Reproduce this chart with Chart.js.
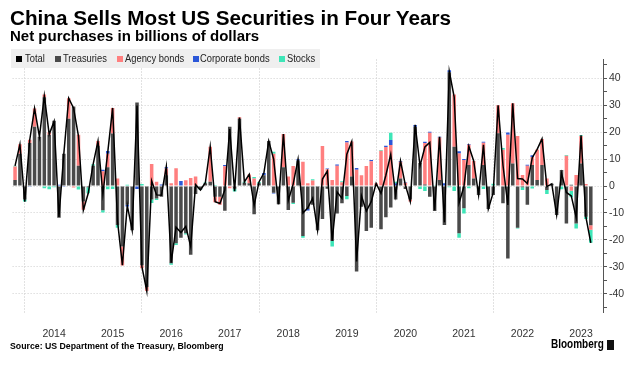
<!DOCTYPE html>
<html><head><meta charset="utf-8">
<script src="https://cdn.jsdelivr.net/npm/chart.js@4"></script>
<style>
html,body{margin:0;padding:0;background:#fff;}
#wrap{position:relative;width:639px;height:367px;overflow:hidden;font-family:"Liberation Sans",Arial,sans-serif;}
#c{position:absolute;left:0;top:0;}
.title{position:absolute;left:10px;top:6px;font-weight:bold;font-size:20.7px;line-height:24px;color:#000;white-space:nowrap;}
.sub{position:absolute;left:10px;top:27px;font-weight:bold;font-size:15px;line-height:18px;color:#000;white-space:nowrap;}
.legbg{position:absolute;left:11px;top:49px;width:309px;height:19px;background:#efefef;}
.sq{position:absolute;top:56px;width:6px;height:6px;}
.lt{position:absolute;top:49px;line-height:19px;font-size:11px;color:#222;white-space:nowrap;transform:scaleX(0.85);transform-origin:0 50%;}
.src{position:absolute;left:10px;top:340px;font-weight:bold;font-size:9.5px;color:#000;white-space:nowrap;transform:scaleX(0.92);transform-origin:0 50%;}
.logo{position:absolute;left:551px;top:337px;font-weight:bold;font-size:12.5px;color:#000;white-space:nowrap;transform:scaleX(0.8);transform-origin:0 50%;}
.icon{position:absolute;left:607px;top:340px;width:7px;height:10px;background:#111;}
</style>
</head><body>
<div id="wrap">
<canvas id="c" width="639" height="367"></canvas>
<div class="title">China Sells Most US Securities in Four Years</div>
<div class="sub">Net purchases in billions of dollars</div>
<div class="legbg"></div>
<div class="sq" style="left:16px;background:#000"></div><div class="lt" style="left:25px">Total</div>
<div class="sq" style="left:55px;background:#4a4a4a"></div><div class="lt" style="left:63px">Treasuries</div>
<div class="sq" style="left:117px;background:#ff7f7f"></div><div class="lt" style="left:125px">Agency bonds</div>
<div class="sq" style="left:193px;background:#2b57d8"></div><div class="lt" style="left:200px">Corporate bonds</div>
<div class="sq" style="left:279px;background:#3ee6b8"></div><div class="lt" style="left:287px">Stocks</div>
<div class="src">Source: US Department of the Treasury, Bloomberg</div>
<div class="logo">Bloomberg</div><div class="icon"></div>
</div>
<script>
// Monthly data, Oct 2013 .. Aug 2023 (billions of dollars)
const startYear = 2013, startMonth = 10;
const treasuries = [2.2,12,-5,16,22,18.3,33,19,24.2,-11.8,12,25,29.5,7.5,-5.8,-0.5,7.5,15,-9,7,19.5,-14.5,-22.5,-7,-16.4,31,-29.4,-37.5,-5,-4.6,-4,4,-28.7,-21.3,-19.2,-17.6,-25.5,-3,-1.2,1,1.6,-4,-4,-9.2,22,-1,25,1.2,1,-10.5,1,4,16.7,-2.5,-6.8,7,-8.9,-6.2,9.5,-18.6,-8.5,-7,-16.4,-12.3,-1,-20.4,-10.2,-6.4,-3.7,3.5,-31.8,-7.7,-16.7,-15.5,0.5,-16.1,-11.6,-8,-5,2.8,-1.1,-5,22,8.5,0.6,-4,-9.3,2.2,-14.5,42.3,14.6,-17.6,-8.3,7.8,2.8,-3.3,7.8,-8.5,-3.3,19.6,-6.4,-26.9,8.4,-15.5,-0.5,-7,7.8,2.2,7.8,-1.5,0.8,-10.8,5.9,-13.9,0.5,-13.9,8.4,-11.4,-14.6];
const agency = [5,3.5,0,1.2,6.8,0,1,1,0,0,0,7.6,-0.6,11.5,-3,0,0,1.7,5.5,5,9.5,2.8,-7,0,0,0,-1.2,-1.5,8.2,1.6,0,2.5,1,6.6,0,2.1,3,3.5,0,0,13,-2,-3,7.3,-0.8,0,0.5,0,3.3,2.8,0,0,0,12,0,12.3,3.5,7.4,0,9,1,2,0,14.9,6.2,2.2,7.5,1.4,16.2,13,6,4,7.4,9.2,0.5,13.1,14.5,15.2,0,6.2,1.2,-0.8,0,0,15.4,19.8,0,15.8,0,0,19.4,12.1,9.7,7.5,6.5,0,8.3,0,0,10.4,13.5,19,22.3,18.6,4.1,7.5,3,11.4,9.7,2.8,0,0,0,11.2,-1.8,4.1,10.2,0.7,-1.7];
const corporate = [0,0,0,-0.3,0,0,0,0,0,0.5,-0.3,0,0,0,0,0,0,0,0.5,1,0,0,0,-0.6,0,-1.1,0,0,0,0,0.6,0.5,0,0,1.9,0,0,0,0,0,0,0,0,0.5,0,0,0,0,0,0,0,0.8,0,-0.3,0,0,0,0,0.4,0,-0.6,0,0,0,0.3,0,0.5,0,0.5,0,0.7,0,0,0.5,0,0,0.5,1.9,1,0.3,0.2,0,0.7,0,0.4,0.4,0,0.3,1,0.7,0,0.8,0.3,0.3,0,0,0.3,0,0,0,0,0.9,0,0,0,0.4,0.6,0,0,0,0,0,0,0,0,0,0,0,0];
const stocks = [0.3,0,-0.8,0,0,0,-0.8,-1.2,-0.5,0,0,0,0,-1.3,0,-2.2,0.6,0,-0.8,-1.2,-1.1,-1,0,0.5,0,0,0.7,0,-1.3,-0.6,0,0,-0.6,-0.6,0,-0.4,0,0,-0.3,0.3,0,0.4,0,0,0,-1,0,0.4,0,0.5,0.5,0,0,0.7,0,0,0,-0.5,0,-0.6,0,0.5,0,0,0,-2.1,0,0.4,-1.2,0,0,0,0,0,0,0.3,0,2.7,0.6,0,0,0,0,-1.1,-1.9,0,0.3,0,0,-0.5,-1.9,-1.6,-1.9,-0.8,0,0,-1.1,0,0.8,0,0.6,0,0,-0.3,-1,0,-0.9,0,0,-1.5,0,0,-1.2,0.3,-2.4,-1.9,0.3,-0.9,-4.8];
const total = [7.5,15.5,-5.8,17,28.8,18.3,33.5,19.2,24,-11.5,12,32.6,28.9,18.5,-9,-2.7,8,16.7,-3,12.5,29,-13,-29.4,-7.2,-16.4,29.9,-30,-39,1.9,-3.3,-3.4,7.2,-28.5,-15.3,-17.3,-15,-22.5,0.5,-1.5,1.2,14.6,-5.8,-6.5,-1.4,21.2,-1.9,25.4,1.5,4.3,-7.2,1.5,4.8,16.7,10,-6.8,19.3,-5.4,0.7,9.9,-10,-8.1,-4.5,-16.4,2.6,5.5,-20.3,-2.2,-4.6,11.8,16.5,-28,-3.7,-9.3,-5.8,1,-2.7,4,11.8,-3.4,9.3,0.3,-5.8,22.7,7.5,14.5,16.2,-9,18.3,-13.5,42.5,33,-6.3,-0.2,14.8,9.3,-3.3,15.3,-8.5,-2.5,30,7.7,-7,30.7,2.8,2.6,0.9,10.5,13.6,17.5,-0.2,0.8,-10.8,4.7,-2.4,-3.7,-11.7,18.8,-11.6,-21.1];
const padMonths = 2; // empty slots after the last month

const labels = [];
for (let k = 0; k < total.length + padMonths; k++) {
  const m = (startMonth - 1 + k) % 12 + 1;
  const y = startYear + Math.floor((startMonth - 1 + k) / 12);
  labels.push(y + '-' + String(m).padStart(2, '0'));
}

const COLORS = {total:'#000000', treas:'#4a4a4a', agency:'#ff7f7f', corp:'#2b57d8', stocks:'#3ee6b8'};
const barCommon = {type:'bar', stack:'bars', order:1, borderWidth:0, barPercentage:0.72, categoryPercentage:1};

new Chart(document.getElementById('c'), {
  data: {
    labels: labels,
    datasets: [
      {type:'line', label:'Total', data: total, stack:'line', order:0, borderColor:COLORS.total, borderWidth:1.5, pointRadius:0, tension:0, fill:false},
      Object.assign({label:'Treasuries', data: treasuries, backgroundColor:COLORS.treas}, barCommon),
      Object.assign({label:'Agency bonds', data: agency, backgroundColor:COLORS.agency}, barCommon),
      Object.assign({label:'Corporate bonds', data: corporate, backgroundColor:COLORS.corp}, barCommon),
      Object.assign({label:'Stocks', data: stocks, backgroundColor:COLORS.stocks}, barCommon)
    ]
  },
  options: {
    responsive:false, animation:false, devicePixelRatio:1,
    layout:{padding:{left:10, right:0, top:59.5, bottom:24.5}},
    plugins:{legend:{display:false}, tooltip:{enabled:false}},
    scales:{
      x:{
        type:'category', offset:true,
        grid:{offset:false, drawTicks:false, lineWidth:1,
          color:(ctx)=>{ const l = labels[ctx.index]; if(!l) return 'transparent'; const y=+l.slice(0,4), m=l.slice(5); return (m==='12' && y%2===1) ? '#c4c4c4' : 'transparent'; }},
        border:{display:false, dash:[1,2]},
        ticks:{autoSkip:false, maxRotation:0, minRotation:0, padding:15, color:'#333',
          font:{family:'"Liberation Sans", sans-serif', size:10.5},
          callback:(v,i)=>{ const l = labels[i]; return (l && l.slice(5)==='06') ? l.slice(0,4) : ''; }},
        afterFit:(s)=>{ s.height = 30; }
      },
      y:{
        type:'linear', position:'right', stacked:true, min:-47, max:47,
        grid:{drawTicks:true, tickLength:4, tickColor:'#555', tickWidth:1,
          color:(ctx)=> (ctx.tick && ctx.tick.value % 10 === 0) ? '#cfcfcf' : 'transparent'},
        border:{display:true, color:'#555', width:1, dash:[1,2]},
        ticks:{stepSize:5, includeBounds:false, autoSkip:false, padding:2, color:'#333',
          font:{family:'"Liberation Sans", sans-serif', size:10.5},
          callback:(v)=> (Math.round(v) % 10 === 0) ? String(Math.round(v)) : ''},
        afterFit:(s)=>{ s.width = 36; }
      }
    }
  }
});
</script>
</body></html>
